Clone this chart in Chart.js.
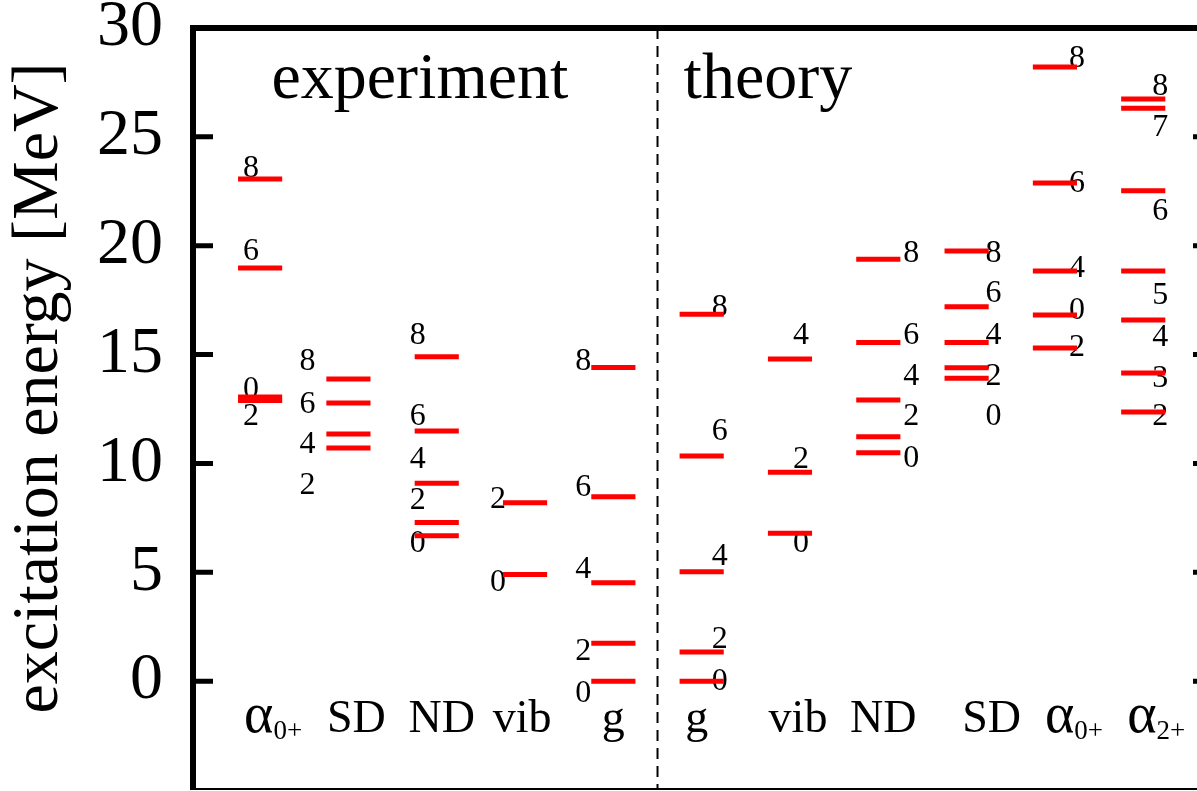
<!DOCTYPE html>
<html>
<head>
<meta charset="utf-8">
<script src="https://cdn.jsdelivr.net/npm/chart.js@4/dist/chart.umd.min.js"></script>
<style>
	html, body { margin: 0; padding: 0; background: #fff; overflow: hidden; }
	#wrap { position: relative; width: 1215px; height: 791px; }
</style>
</head>
<body>
<div id="wrap"><canvas id="chart-levels"></canvas></div>
<script>
// Column names (experiment: 0-4, theory: 5-10)
const columnNames = ['α', 'SD', 'ND', 'vib', 'g', 'g', 'vib', 'ND', 'SD', 'α', 'α'];
const columnSubs = ['0+', '', '', '', '', '', '', '', '', '0+', '2+'];
const groupNames = ['experiment', 'theory'];

// Level energies in MeV, one list per column
const levels = [
	[23.06, 18.98, 13.05, 12.89],
	[13.88, 12.77, 11.35, 10.71],
	[14.9, 11.49, 9.09, 7.29, 6.68],
	[8.19, 4.9],
	[14.41, 8.47, 4.52, 1.74, 0],
	[16.85, 10.34, 5.03, 1.34, 0],
	[14.8, 9.59, 6.79],
	[19.38, 15.56, 12.91, 11.23, 10.49],
	[19.76, 17.2, 15.56, 14.4, 13.91],
	[28.21, 22.88, 18.84, 16.82, 15.3],
	[26.74, 26.31, 22.53, 18.84, 16.59, 14.15, 12.36],
];

// Spin labels and the energy (MeV) where each label sits
const spins = [
	['8', '6', '0', '2'],
	['8', '6', '4', '2'],
	['8', '6', '4', '2', '0'],
	['2', '0'],
	['8', '6', '4', '2', '0'],
	['8', '6', '4', '2', '0'],
	['4', '2', '0'],
	['8', '6', '4', '2', '0'],
	['8', '6', '4', '2', '0'],
	['8', '6', '4', '0', '2'],
	['8', '7', '6', '5', '4', '3', '2'],
];
const spinEnergies = [
	[23.52, 19.71, 13.37, 12.13],
	[14.66, 12.68, 10.85, 8.97],
	[15.85, 12.13, 10.16, 8.27, 6.34],
	[8.32, 4.51],
	[14.66, 8.87, 5.11, 1.34, -0.59],
	[17.14, 11.44, 5.7, 1.93, 0.0],
	[15.85, 10.16, 6.34],
	[19.66, 15.85, 14.01, 12.13, 10.2],
	[19.66, 17.78, 15.85, 14.01, 12.13],
	[28.58, 22.84, 18.93, 17.04, 15.3],
	[27.29, 25.41, 21.59, 17.73, 15.8, 13.88, 12.13],
];

const yTicks = [0, 5, 10, 15, 20, 25, 30];
const yTitle = 'excitation energy [MeV]';

const serif = "'Liberation Serif', 'Times New Roman', serif";

// label offsets in px (layout only)
const spinDx = [-9, -41, -19, -27, -30, 18, 11, 33, 27, 22, 17];
const nameDx = [13, 8, 5, -3, 0, -5, 8, 5, 25, 19, 13];

// one dataset, segments split by null points
const levelPoints = [];
levels.forEach((col, i) => {
	col.forEach((e) => {
		levelPoints.push({ x: i - 0.25, y: e }, { x: i + 0.25, y: e }, { x: i, y: null });
	});
});

const decor = {
	id: 'decor',
	beforeDatasetsDraw(chart) {
		const { ctx, chartArea: a, scales } = chart;
		const sx = scales.x;
		const sy = scales.y;
		ctx.save();

		// dashed separator between experiment and theory
		ctx.strokeStyle = '#000';
		ctx.lineWidth = 2;
		ctx.setLineDash([11, 7]);
		ctx.beginPath();
		ctx.moveTo(sx.getPixelForValue(4.5), a.top);
		ctx.lineTo(sx.getPixelForValue(4.5), a.bottom);
		ctx.stroke();
		ctx.setLineDash([]);

		// frame: thick top and left, thin bottom
		ctx.lineWidth = 6;
		ctx.beginPath();
		ctx.moveTo(a.left, a.bottom);
		ctx.lineTo(a.left, a.top);
		ctx.lineTo(a.right + 3, a.top);
		ctx.stroke();
		ctx.lineWidth = 2;
		ctx.beginPath();
		ctx.moveTo(a.left, a.bottom - 1);
		ctx.lineTo(a.right, a.bottom - 1);
		ctx.stroke();

		// inward ticks on both sides
		ctx.lineWidth = 5;
		yTicks.forEach((v) => {
			const y = sy.getPixelForValue(v);
			ctx.beginPath();
			ctx.moveTo(a.left, y);
			ctx.lineTo(a.left + 20, y);
			ctx.moveTo(a.right - 20, y);
			ctx.lineTo(a.right, y);
			ctx.stroke();
		});

		// spin labels
		ctx.fillStyle = '#000';
		ctx.font = '32px ' + serif;
		ctx.textAlign = 'center';
		ctx.textBaseline = 'middle';
		spins.forEach((col, i) => {
			col.forEach((s, j) => {
				ctx.fillText(s, sx.getPixelForValue(i) + spinDx[i], sy.getPixelForValue(spinEnergies[i][j]));
			});
		});

		// group names
		ctx.font = '66px ' + serif;
		ctx.textBaseline = 'alphabetic';
		ctx.fillText(groupNames[0], sx.getPixelForValue(1.81), a.top + 70);
		ctx.fillText(groupNames[1], sx.getPixelForValue(5.75), a.top + 70);

		// column names with subscripts
		ctx.textAlign = 'left';
		const base = a.bottom - 58;
		columnNames.forEach((n, i) => {
			const mainFont = (n === 'α' ? 56 : 46) + 'px ' + serif;
			const subFont = '27px ' + serif;
			ctx.font = mainFont;
			const w1 = ctx.measureText(n).width;
			ctx.font = subFont;
			const w2 = columnSubs[i] ? ctx.measureText(columnSubs[i]).width : 0;
			const x0 = sx.getPixelForValue(i) + nameDx[i] - (w1 + w2) / 2;
			ctx.font = mainFont;
			ctx.fillText(n, x0, base);
			if (columnSubs[i]) {
				ctx.font = subFont;
				ctx.fillText(columnSubs[i], x0 + w1, base + 7);
			}
		});

		// y axis title
		ctx.font = '66px ' + serif;
		ctx.textAlign = 'center';
		ctx.textBaseline = 'middle';
		ctx.translate(40, 388);
		ctx.rotate(-Math.PI / 2);
		ctx.fillText(yTitle, 0, 0);

		ctx.restore();
	},
};

!(function () {
	const ctx = document.getElementById('chart-levels');

	new Chart(ctx, {
		type: 'scatter',
		data: {
			datasets: [
				{
					data: levelPoints,
					showLine: true,
					spanGaps: false,
					borderColor: '#ff0000',
					borderWidth: 5,
					borderCapStyle: 'butt',
					pointRadius: 0,
					pointHoverRadius: 0,
				},
			],
		},
		options: {
			responsive: true,
			maintainAspectRatio: false,
			animation: false,
			layout: {
				padding: { top: 28, right: 2, bottom: 1, left: 0 },
			},
			scales: {
				x: {
					type: 'linear',
					min: -0.76,
					max: 10.79,
					display: false,
				},
				y: {
					min: -5,
					max: 30,
					afterFit(scale) {
						scale.width = 193;
						scale.paddingTop = 0;
						scale.paddingBottom = 0;
					},
					afterBuildTicks(scale) {
						scale.ticks = [-5].concat(yTicks).map((v) => ({ value: v }));
					},
					ticks: {
						padding: 30,
						color: '#000',
						autoSkip: false,
						font: { family: serif, size: 66, lineHeight: 1 },
						callback: (v) => (v === -5 ? '' : v),
					},
					grid: { display: false, drawTicks: false },
					border: { display: false },
				},
			},
			plugins: {
				legend: { display: false },
				tooltip: { enabled: false },
			},
		},
		plugins: [decor],
	});
})();
</script>
</body>
</html>
